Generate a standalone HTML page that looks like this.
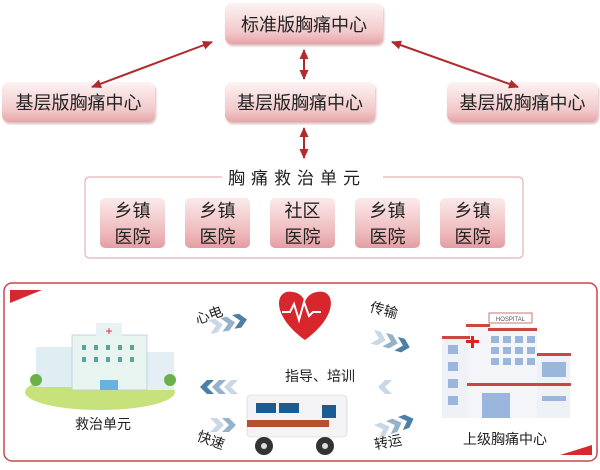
<!DOCTYPE html>
<html><head><meta charset="utf-8"><style>
body{margin:0;width:600px;height:470px;background:#fff;position:relative;overflow:hidden;font-family:"Liberation Sans","Noto Sans CJK SC",sans-serif;}
.b{position:absolute;border-radius:7px;background:linear-gradient(#fdf3f3,#f2c9cb 70%,#e6a5a8);box-shadow:1px 2px 2px rgba(150,60,60,.35);color:#222;font-size:18px;display:flex;align-items:center;justify-content:center;}
.s{position:absolute;width:65px;height:50px;border-radius:5px;background:linear-gradient(#fbeaea,#eeb9bc 70%,#e39ea2);color:#222;font-size:18px;text-align:center;line-height:26px;padding-top:0px;box-sizing:border-box;}
.t{position:absolute;font-size:14px;color:#222;}
</style></head><body>
<div class="b" style="left:225px;top:3px;width:158px;height:41px">标准版胸痛中心</div>
<div class="b" style="left:2px;top:82px;width:153px;height:40px">基层版胸痛中心</div>
<div class="b" style="left:225px;top:82px;width:150px;height:40px">基层版胸痛中心</div>
<div class="b" style="left:447px;top:82px;width:151px;height:40px">基层版胸痛中心</div>
<svg style="position:absolute;left:0;top:0" width="600" height="470">
<defs><marker id="a" markerUnits="userSpaceOnUse" markerWidth="10" markerHeight="9" refX="9" refY="4.5" orient="auto-start-reverse"><path d="M0,0L10,4.5L0,9z" fill="#b22a2e"/></marker>
<g id="chev"><path d="M0,0h7l7,7l-7,7h-7l7,-7z"/></g></defs>
<g stroke="#b22a2e" stroke-width="2" fill="none">
<line x1="212" y1="42" x2="92" y2="87" marker-start="url(#a)" marker-end="url(#a)"/>
<line x1="392" y1="42" x2="518" y2="87" marker-start="url(#a)" marker-end="url(#a)"/>
<line x1="304" y1="50" x2="304" y2="79" marker-start="url(#a)" marker-end="url(#a)"/>
<line x1="304" y1="128" x2="304" y2="158" marker-start="url(#a)" marker-end="url(#a)"/>
</g>
<path d="M222,177 H90 Q85,177 85,182 V253 Q85,258 90,258 H518 Q523,258 523,253 V182 Q523,177 518,177 H383" fill="none" stroke="#e5b5b7" stroke-width="1.2"/>
<rect x="4" y="283" width="593" height="178" rx="8" fill="#fff" stroke="#c9474c" stroke-width="1.5"/>
<path d="M10,290H42L10,303z" fill="#d42a2f"/>
<path d="M592,455H560L592,445z" fill="#d42a2f"/>
<!-- left hospital -->
<ellipse cx="100" cy="392" rx="75" ry="18" fill="#c7e27a"/>
<rect x="36" y="347" width="40" height="40" fill="#dfeef2"/>
<rect x="138" y="352" width="36" height="38" fill="#e4eef4"/>
<rect x="72" y="335" width="75" height="55" fill="#e8f4f0" stroke="#bcd" stroke-width=".8"/>
<rect x="96" y="323" width="26" height="14" fill="#e6f2f3"/>
<text x="109" y="335" font-size="12" fill="#d22" text-anchor="middle">+</text>
<rect x="100" y="380" width="18" height="10" fill="#6ab1de"/>
<g fill="#5fa29a"><rect x="82" y="345" width="4" height="5"/><rect x="94" y="345" width="4" height="5"/><rect x="106" y="345" width="4" height="5"/><rect x="118" y="345" width="4" height="5"/><rect x="130" y="345" width="4" height="5"/><rect x="82" y="357" width="4" height="5"/><rect x="94" y="357" width="4" height="5"/><rect x="106" y="357" width="4" height="5"/><rect x="118" y="357" width="4" height="5"/><rect x="130" y="357" width="4" height="5"/></g>
<circle cx="36" cy="380" r="6" fill="#6bb04a"/><circle cx="170" cy="380" r="6" fill="#6bb04a"/>
<!-- heart -->
<path d="M305,340 C270,315 275,288 293,292 C300,293 304,298 305,302 C306,298 310,293 317,292 C335,288 340,315 305,340z" fill="#d8262d"/>
<path d="M282,312h8l4,-8l5,16l5,-18l5,14l4,-4h8" stroke="#fff" stroke-width="2" fill="none"/>
<!-- right hospital -->
<rect x="442" y="338" width="26" height="80" fill="#eef1f5"/>
<rect x="468" y="327" width="69" height="91" fill="#f3f5f8"/>
<rect x="537" y="355" width="33" height="63" fill="#eef1f5"/>
<rect x="489" y="313" width="43" height="10" fill="#fff" stroke="#b55" stroke-width=".8"/>
<text x="510.5" y="321" font-size="6" text-anchor="middle" fill="#555">HOSPITAL</text>
<g fill="#c9473f"><rect x="442" y="336" width="28" height="3"/><rect x="466" y="324" width="24" height="3"/><rect x="488" y="328" width="49" height="3"/><rect x="537" y="353" width="34" height="3"/><rect x="467" y="383" width="104" height="3"/></g>
<rect x="471" y="336" width="3" height="12" fill="#d22"/><rect x="466" y="340" width="13" height="3" fill="#d22"/>
<g fill="#9ab6dc">
<rect x="491" y="336" width="8" height="7"/><rect x="503" y="336" width="8" height="7"/><rect x="515" y="336" width="8" height="7"/><rect x="527" y="336" width="8" height="7"/>
<rect x="491" y="347" width="8" height="7"/><rect x="503" y="347" width="8" height="7"/><rect x="515" y="347" width="8" height="7"/><rect x="527" y="347" width="8" height="7"/>
<rect x="491" y="358" width="8" height="7"/><rect x="503" y="358" width="8" height="7"/><rect x="515" y="358" width="8" height="7"/><rect x="527" y="358" width="8" height="7"/>
<rect x="448" y="345" width="10" height="9"/><rect x="448" y="362" width="10" height="9"/><rect x="448" y="379" width="10" height="9"/><rect x="448" y="396" width="10" height="9"/>
<rect x="542" y="362" width="24" height="15"/><rect x="542" y="396" width="24" height="5"/>
<rect x="482" y="393" width="28" height="25"/>
</g>
<!-- ambulance -->
<rect x="247" y="395" width="100" height="42" rx="4" fill="#f4f4f6" stroke="#ccc" stroke-width=".6"/>
<rect x="256" y="403" width="20" height="10" fill="#1b5c93"/><rect x="279" y="403" width="20" height="10" fill="#1b5c93"/><rect x="322" y="405" width="14" height="13" fill="#1b5c93"/>
<rect x="247" y="420" width="82" height="7" fill="#b5512e"/>
<circle cx="264" cy="446" r="9" fill="#333"/><circle cx="325" cy="446" r="9" fill="#333"/>
<circle cx="264" cy="446" r="3" fill="#ddd"/><circle cx="325" cy="446" r="3" fill="#ddd"/>
<!-- chevrons -->
<g fill="#4d7ea6">
<use href="#chev" transform="translate(232,315) rotate(-10)"/><use href="#chev" transform="translate(220,318) rotate(-10)" opacity=".6"/><use href="#chev" transform="translate(208,320) rotate(-10)" opacity=".3"/>
<use href="#chev" transform="translate(398,337) rotate(15)"/><use href="#chev" transform="translate(386,333) rotate(15)" opacity=".6"/><use href="#chev" transform="translate(374,330) rotate(15)" opacity=".3"/>
<use href="#chev" transform="translate(214,380) scale(-1,1)"/><use href="#chev" transform="translate(226,380) scale(-1,1)" opacity=".6"/><use href="#chev" transform="translate(238,380) scale(-1,1)" opacity=".3"/>
<use href="#chev" transform="translate(392,380) scale(-1,1)" opacity=".3"/>
<use href="#chev" transform="translate(222,418)" opacity=".6"/><use href="#chev" transform="translate(210,418)" opacity=".3"/>
<use href="#chev" transform="translate(398,417) rotate(-20)"/><use href="#chev" transform="translate(386,421) rotate(-20)" opacity=".6"/><use href="#chev" transform="translate(374,425) rotate(-20)" opacity=".3"/>
</g>
</svg>
<div class="t" style="left:226px;top:164px;font-size:17px;letter-spacing:6px;background:#fff;padding:0 2px">胸痛救治单元</div>
<div class="s" style="left:100px;top:198px">乡镇<br>医院</div>
<div class="s" style="left:185px;top:198px">乡镇<br>医院</div>
<div class="s" style="left:270px;top:198px">社区<br>医院</div>
<div class="s" style="left:355px;top:198px">乡镇<br>医院</div>
<div class="s" style="left:440px;top:198px">乡镇<br>医院</div>
<div class="t" style="left:195px;top:305px;transform:rotate(-20deg)">心电</div>
<div class="t" style="left:370px;top:300px;transform:rotate(15deg)">传输</div>
<div class="t" style="left:285px;top:366px">指导、培训</div>
<div class="t" style="left:75px;top:414px">救治单元</div>
<div class="t" style="left:197px;top:430px;transform:rotate(20deg)">快速</div>
<div class="t" style="left:374px;top:432px;transform:rotate(-10deg)">转运</div>
<div class="t" style="left:463px;top:429px">上级胸痛中心</div>
</body></html>
